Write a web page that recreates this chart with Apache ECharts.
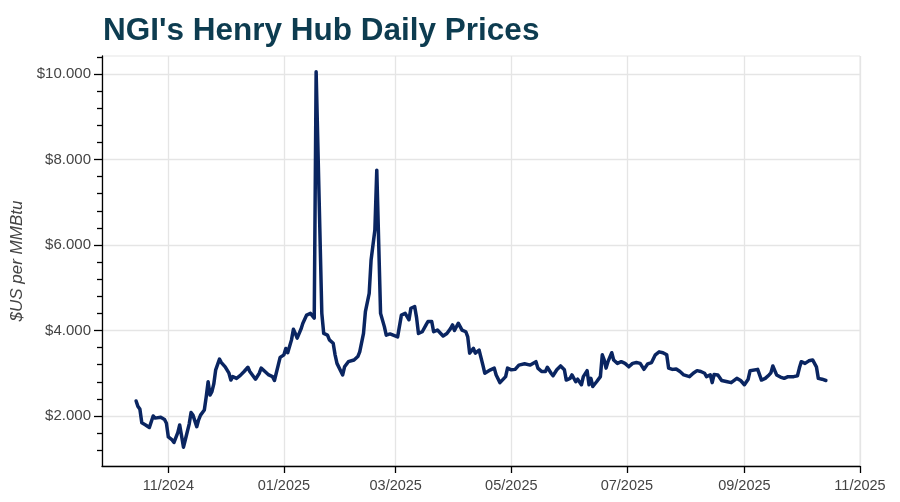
<!DOCTYPE html>
<html>
<head>
<meta charset="utf-8">
<style>
  html, body { margin: 0; padding: 0; background: #ffffff; }
  #chart { width: 900px; height: 502px; }
</style>
<script src="https://cdn.jsdelivr.net/npm/echarts@6/dist/echarts.min.js"></script>
</head>
<body>
<div id="chart"></div>
<script>
// ---- data ----
const dates = [
  '2024-10-15','2024-10-16','2024-10-17','2024-10-18','2024-10-20','2024-10-22','2024-10-24','2024-10-25','2024-10-26','2024-10-28',
  '2024-10-29','2024-10-30','2024-10-31','2024-11-01','2024-11-03','2024-11-04','2024-11-06','2024-11-07','2024-11-08','2024-11-09',
  '2024-11-10','2024-11-12','2024-11-13','2024-11-14','2024-11-16','2024-11-17','2024-11-18','2024-11-20','2024-11-21','2024-11-22',
  '2024-11-23','2024-11-24','2024-11-25','2024-11-26','2024-11-28','2024-11-29','2024-12-01','2024-12-03','2024-12-04','2024-12-05',
  '2024-12-07','2024-12-09','2024-12-10','2024-12-11','2024-12-13','2024-12-14','2024-12-17','2024-12-19','2024-12-20','2024-12-22',
  '2024-12-24','2024-12-25','2024-12-26','2024-12-27','2024-12-29','2024-12-30','2025-01-01','2025-01-02','2025-01-03','2025-01-05',
  '2025-01-06','2025-01-07','2025-01-08','2025-01-10','2025-01-11','2025-01-13','2025-01-15','2025-01-16','2025-01-17','2025-01-18',
  '2025-01-21','2025-01-22','2025-01-24','2025-01-25','2025-01-27','2025-01-28','2025-01-29','2025-02-01','2025-02-02','2025-02-04',
  '2025-02-05','2025-02-07','2025-02-09','2025-02-10','2025-02-12','2025-02-13','2025-02-15','2025-02-16','2025-02-18','2025-02-19',
  '2025-02-21','2025-02-23','2025-02-24','2025-02-26','2025-02-27','2025-03-02','2025-03-03','2025-03-04','2025-03-06','2025-03-08',
  '2025-03-09','2025-03-11','2025-03-12','2025-03-13','2025-03-15','2025-03-17','2025-03-18','2025-03-20','2025-03-21','2025-03-23',
  '2025-03-24','2025-03-26','2025-03-28','2025-03-30','2025-03-31','2025-04-01','2025-04-03','2025-04-05','2025-04-07','2025-04-08',
  '2025-04-09','2025-04-11','2025-04-12','2025-04-13','2025-04-14','2025-04-16','2025-04-17','2025-04-18','2025-04-20','2025-04-22',
  '2025-04-23','2025-04-25','2025-04-26','2025-04-28','2025-04-29','2025-05-01','2025-05-03','2025-05-05','2025-05-06','2025-05-08',
  '2025-05-09','2025-05-11','2025-05-14','2025-05-15','2025-05-17','2025-05-19','2025-05-20','2025-05-22','2025-05-23','2025-05-25',
  '2025-05-27','2025-05-29','2025-05-30','2025-06-01','2025-06-02','2025-06-04','2025-06-05','2025-06-07','2025-06-08','2025-06-10',
  '2025-06-11','2025-06-12','2025-06-13','2025-06-15','2025-06-17','2025-06-18','2025-06-19','2025-06-20','2025-06-21','2025-06-23',
  '2025-06-24','2025-06-26','2025-06-28','2025-06-30','2025-07-02','2025-07-04','2025-07-06','2025-07-08','2025-07-10','2025-07-12',
  '2025-07-14','2025-07-16','2025-07-18','2025-07-20','2025-07-22','2025-07-23','2025-07-25','2025-07-27','2025-07-29','2025-07-31',
  '2025-08-01','2025-08-03','2025-08-04','2025-08-05','2025-08-07','2025-08-09','2025-08-11','2025-08-12','2025-08-14','2025-08-15',
  '2025-08-16','2025-08-18','2025-08-20','2025-08-21','2025-08-23','2025-08-25','2025-08-26','2025-08-28','2025-08-30','2025-09-01',
  '2025-09-03','2025-09-04','2025-09-05','2025-09-08','2025-09-09','2025-09-10','2025-09-12','2025-09-14','2025-09-15','2025-09-16',
  '2025-09-18','2025-09-20','2025-09-21','2025-09-22','2025-09-24','2025-09-25','2025-09-27','2025-09-29','2025-09-30','2025-10-01',
  '2025-10-03','2025-10-05','2025-10-07','2025-10-08','2025-10-09','2025-10-10','2025-10-12','2025-10-14'
];
const prices = [
  2.35,2.22,2.16,1.84,1.79,1.73,2.00,1.95,1.97,1.97,
  1.95,1.92,1.83,1.51,1.44,1.38,1.61,1.79,1.53,1.27,
  1.45,1.81,2.08,2.02,1.75,1.91,2.02,2.14,2.45,2.80,
  2.49,2.57,2.75,3.08,3.33,3.25,3.15,3.00,2.84,2.92,
  2.88,2.95,2.92,3.04,3.14,3.04,2.86,3.00,3.12,3.04,
  2.96,3.00,2.92,2.83,3.19,3.37,3.43,3.58,3.48,3.78,
  4.03,3.93,3.82,4.03,4.17,4.36,4.40,4.40,4.29,10.05,
  4.40,3.93,3.89,3.78,3.70,3.43,3.23,2.96,3.15,3.27,
  3.23,3.31,3.39,3.50,3.93,4.44,4.87,5.65,6.35,7.75,
  4.40,4.09,3.89,3.92,3.89,3.85,3.82,4.36,4.40,4.25,
  4.52,4.56,4.30,3.93,3.97,4.13,4.21,4.21,3.97,4.01,
  3.97,3.87,3.93,4.05,4.13,4.00,4.17,4.01,3.97,3.85,
  3.47,3.58,3.47,3.50,3.54,3.19,3.00,2.96,3.08,3.12,
  2.96,2.78,2.75,2.92,3.12,3.08,3.09,3.19,3.15,3.22,
  3.19,3.19,3.27,3.12,3.04,3.04,3.14,3.00,2.94,3.08,
  3.17,3.08,2.84,2.88,2.96,2.80,2.86,2.73,2.92,3.06,
  2.73,2.88,2.69,2.80,2.92,3.43,3.31,3.12,3.27,3.48,
  3.31,3.23,3.27,3.23,3.15,3.23,3.25,3.23,3.09,3.22,
  3.25,3.43,3.50,3.48,3.43,3.12,3.09,3.10,3.04,2.96,
  3.00,2.92,2.88,3.00,3.06,3.04,3.00,2.92,2.96,2.78,
  2.97,2.96,2.83,2.86,2.80,2.78,2.80,2.88,2.83,2.73,
  2.86,3.06,3.08,3.09,3.06,2.84,2.88,2.96,3.01,3.17,
  2.96,2.91,2.91,2.88,2.92,2.88,2.92,2.94,3.12,3.27,
  3.23,3.29,3.31,3.31,3.15,2.88,2.86,2.83
];
const xTickDates = ['2024-11-01','2025-01-01','2025-03-01','2025-05-01','2025-07-01','2025-09-01','2025-11-01'];
const yMajorTicks = [2, 4, 6, 8, 10];
const yMinorTicks = [1.2, 1.6, 2.4, 2.8, 3.2, 3.6, 4.4, 4.8, 5.2, 5.6, 6.4, 6.8, 7.2, 7.6, 8.4, 8.8, 9.2, 9.6, 10.4];
const titleText = "NGI's Henry Hub Daily Prices";
const yAxisName = '$US per MMBtu';

// ---- helpers ----
function ts(s) { const p = s.split('-').map(Number); return new Date(p[0], p[1] - 1, p[2]).getTime(); }
function pad(n) { return (n < 10 ? '0' : '') + n; }

const seriesData = dates.map((d, i) => [ts(d), prices[i]]);
const xTicks = xTickDates.map(ts);
const FONT = '"Liberation Sans", Arial, Helvetica, sans-serif';

const chart = echarts.init(document.getElementById('chart'), null, { renderer: 'canvas' });
chart.setOption({
  backgroundColor: '#ffffff',
  animation: false,
  title: {
    text: titleText,
    left: 98,
    top: 10,
    textStyle: { fontFamily: FONT, fontSize: 31.5, fontWeight: 'bold', color: '#0d3c50' }
  },
  grid: {
    left: 102, right: 40, top: 56, bottom: 36,
    show: true, borderColor: '#e5e5e5', borderWidth: 1, backgroundColor: 'transparent'
  },
  xAxis: {
    type: 'value',
    min: ts('2024-09-27'),
    max: ts('2025-11-01'),
    axisLine: { show: true, onZero: false, lineStyle: { color: '#000000', width: 1.3 } },
    axisTick: { show: true, length: 7, customValues: xTicks, lineStyle: { color: '#000000', width: 1.3 } },
    axisLabel: {
      customValues: xTicks,
      margin: 12,
      fontFamily: FONT, fontSize: 14.5, color: '#444444',
      formatter: function (v) { const d = new Date(v); return pad(d.getMonth() + 1) + '/' + d.getFullYear(); }
    },
    splitLine: { show: true, lineStyle: { color: '#e5e5e5', width: 1.3 } }
  },
  yAxis: [
    {
      type: 'value',
      min: 0.83,
      max: 10.42,
      position: 'left',
      name: yAxisName,
      nameLocation: 'middle',
      nameGap: 74,
      nameTextStyle: { fontFamily: FONT, fontSize: 17, fontStyle: 'italic', color: '#444444' },
      axisLine: { show: true, onZero: false, lineStyle: { color: '#000000', width: 1.3 } },
      axisTick: { show: true, length: 8, customValues: yMajorTicks, lineStyle: { color: '#000000', width: 1.3 } },
      axisLabel: {
        customValues: yMajorTicks,
        margin: 11,
        fontFamily: FONT, fontSize: 15, color: '#444444',
        formatter: function (v) { return '$' + v.toFixed(3); }
      },
      splitLine: { show: true, lineStyle: { color: '#e5e5e5', width: 1.3 } }
    },
    {
      type: 'value',
      min: 0.83,
      max: 10.42,
      position: 'left',
      axisLine: { show: false, onZero: false },
      axisTick: { show: true, length: 5, customValues: yMinorTicks, lineStyle: { color: '#000000', width: 1.3 } },
      axisLabel: { show: false, customValues: yMinorTicks },
      splitLine: { show: false }
    }
  ],
  series: [{
    type: 'line',
    yAxisIndex: 0,
    data: seriesData,
    showSymbol: false,
    symbol: 'none',
    lineStyle: { color: '#0a2561', width: 3.5, join: 'round', cap: 'round' },
    itemStyle: { color: '#0a2561' }
  }]
});
</script>
</body>
</html>
